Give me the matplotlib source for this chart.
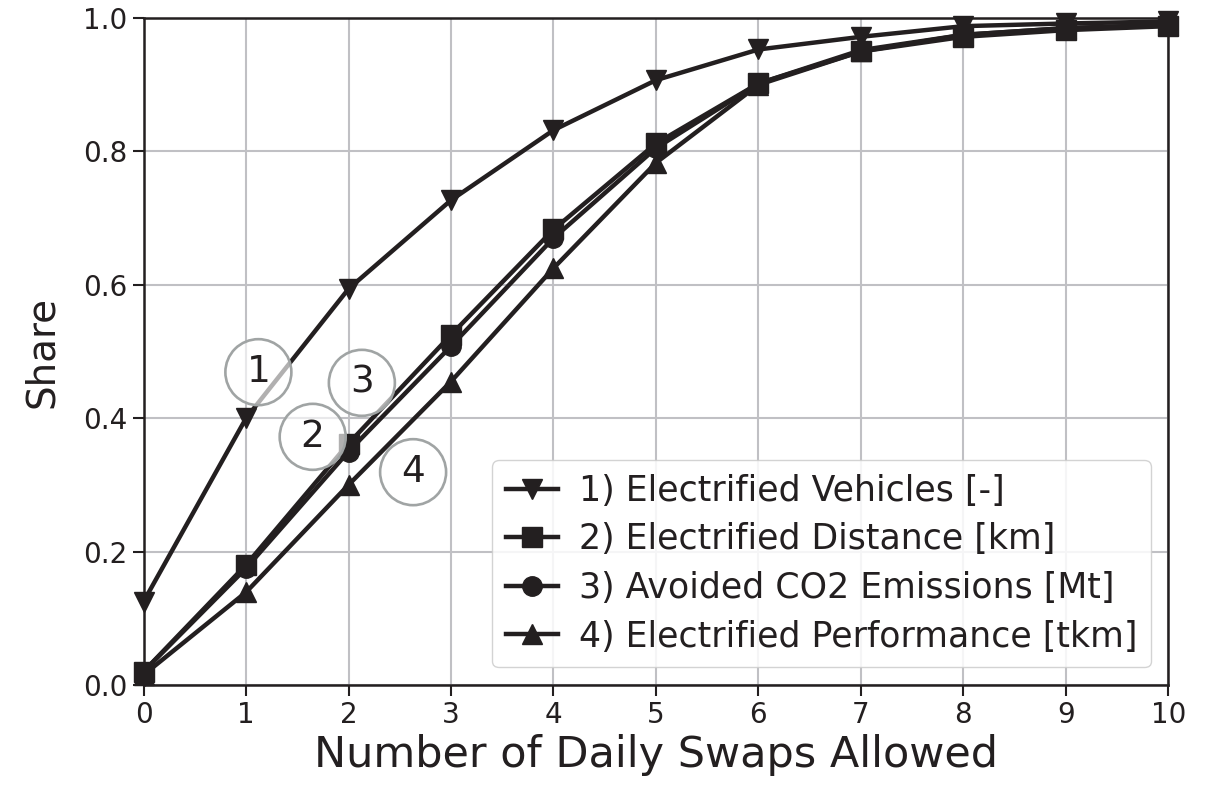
import numpy as np
from matplotlib import pyplot as plt

swaps = np.arange(0, 11)
vehicles = [0.125, 0.40, 0.594, 0.727, 0.832, 0.907, 0.953, 0.972, 0.988, 0.992, 0.995]
distance = [0.02, 0.18, 0.362, 0.525, 0.683, 0.812, 0.902, 0.950, 0.972, 0.982, 0.988]
co2 = [0.02, 0.175, 0.350, 0.508, 0.670, 0.805, 0.902, 0.952, 0.975, 0.985, 0.990]
performance = [0.015, 0.139, 0.300, 0.455, 0.625, 0.783, 0.900, 0.950, 0.975, 0.985, 0.990]

labels = ['1) Electrified Vehicles [-]', '2) Electrified Distance [km]',
          '3) Avoided CO2 Emissions [Mt]', '4) Electrified Performance [tkm]']
markers = ['v', 's', 'o', '^']
# where the circled numbers sit
tags = ['1', '2', '3', '4']
tag_x = [1.12, 1.65, 2.13, 2.63]
tag_y = [0.469, 0.372, 0.453, 0.319]

col = '#231f20'
fig = plt.figure(figsize=(12.17, 7.89), dpi=100)
ax = fig.add_axes([0.118, 0.132, 0.842, 0.845])

for ys, m, lab in zip([vehicles, distance, co2, performance], markers, labels):
    ax.plot(swaps, ys, color=col, marker=m, markersize=14, lw=3.2, label=lab, clip_on=False)

for t, x, y in zip(tags, tag_x, tag_y):
    ax.text(x, y, t, fontsize=27, color=col, ha='center', va='center',
            bbox=dict(boxstyle='circle,pad=0.4', fc=(1, 1, 1, 0.65), ec='#a0a4a4', lw=1.9))

ax.set_xlim(0, 10)
ax.set_ylim(0, 1)
ax.set_xticks(range(0, 11))
ax.set_yticks(np.arange(0, 1.01, 0.2))
ax.set_yticklabels(['%.1f' % v for v in np.arange(0, 1.01, 0.2)])
ax.grid(True, color='#c0c0c4', lw=1.5)
ax.set_axisbelow(True)
ax.tick_params(labelsize=20, length=8, width=1.5, colors=col)
for s in ax.spines.values():
    s.set_color(col)
    s.set_linewidth(1.8)
ax.set_xlabel('Number of Daily Swaps Allowed', fontsize=31, color=col, labelpad=4)
ax.set_ylabel('Share', fontsize=28, color=col, labelpad=16)

leg = ax.legend(loc='lower right', fontsize=25, handlelength=1.5, handletextpad=0.6,
                borderaxespad=0.5, framealpha=0.85, edgecolor='#cccccc', labelspacing=0.42)
for txt in leg.get_texts():
    txt.set_color(col)

fig.savefig('out.png', dpi=100)
